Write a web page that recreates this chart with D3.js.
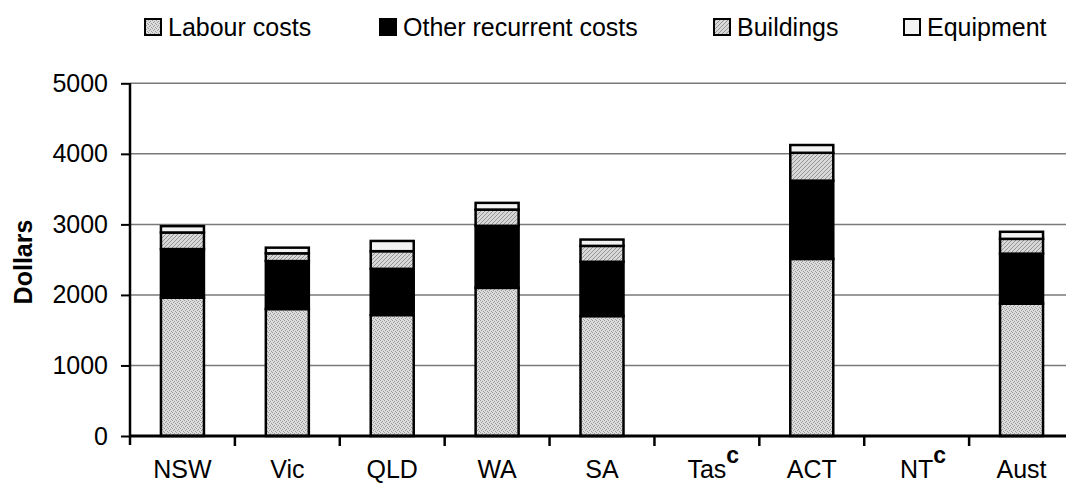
<!DOCTYPE html>
<html>
<head>
<meta charset="utf-8">
<script src="https://cdn.jsdelivr.net/npm/d3@7"></script>
<style>
  html, body { margin: 0; padding: 0; background: #fff; }
  svg { display: block; font-family: "Liberation Sans", Arial, sans-serif; }
</style>
</head>
<body>
<svg id="chart" width="1066" height="483"></svg>
<script>
// Recurrent and capital cost per unit, by jurisdiction (dollars)
const categories = ["NSW", "Vic", "QLD", "WA", "SA", "Tas", "ACT", "NT", "Aust"];
const footnotes = ["", "", "", "", "", "c", "", "c", ""];
const seriesNames = ["Labour costs", "Other recurrent costs", "Buildings", "Equipment"];
const labourCosts    = [1960, 1800, 1715, 2100, 1700, null, 2510, null, 1875];
const otherRecurrent = [ 690,  680,  655,  880,  770, null, 1110, null,  710];
const buildings      = [ 235,  110,  250,  230,  225, null,  395, null,  210];
const equipment      = [  90,   80,  145,   95,   90, null,  110, null,  100];
const yTicks = [0, 1000, 2000, 3000, 4000, 5000];

const svg = d3.select("#chart");
const plot = { left: 130, right: 1074, top: 83.3, bottom: 436 };

// fills: dithered greys for labour and buildings, near-white for equipment
const defs = svg.append("defs");
const dither = defs.append("pattern").attr("id", "patLabour")
  .attr("patternUnits", "userSpaceOnUse").attr("width", 4).attr("height", 4);
dither.append("rect").attr("width", 4).attr("height", 4).attr("fill", "#dcdcdc");
[[0,0],[2,1],[1,2],[3,3]].forEach(([px, py]) =>
  dither.append("rect").attr("x", px).attr("y", py).attr("width", 1).attr("height", 1).attr("fill", "#9a9a9a"));

const hatch = defs.append("pattern").attr("id", "patBuild")
  .attr("patternUnits", "userSpaceOnUse").attr("width", 4).attr("height", 4);
hatch.append("rect").attr("width", 4).attr("height", 4).attr("fill", "#d8d8d8");
[[0,3],[1,2],[2,1],[3,0]].forEach(([px, py]) =>
  hatch.append("rect").attr("x", px).attr("y", py).attr("width", 1).attr("height", 1).attr("fill", "#949494"));

const fills = ["url(#patLabour)", "#000000", "url(#patBuild)", "#f2f2f2"];

const x = d3.scaleBand().domain(categories).range([plot.left, plot.right]).paddingInner(0).paddingOuter(0);
const y = d3.scaleLinear().domain([0, 5000]).range([plot.bottom, plot.top]);
const barW = x.bandwidth() * 0.41;

// horizontal gridlines
svg.append("g").selectAll("line").data(yTicks.filter(d => d > 0)).join("line")
  .attr("x1", plot.left).attr("x2", plot.right)
  .attr("y1", d => y(d)).attr("y2", d => y(d))
  .attr("stroke", "#7a7a7a").attr("stroke-width", 1.5);

// stacked bars
const rows = categories.map((c, i) => ({
  cat: c,
  "Labour costs": labourCosts[i],
  "Other recurrent costs": otherRecurrent[i],
  "Buildings": buildings[i],
  "Equipment": equipment[i]
})).filter(r => r["Labour costs"] != null);

const stacked = d3.stack().keys(seriesNames)(rows);
svg.append("g").selectAll("g").data(stacked).join("g")
  .attr("fill", (d, i) => fills[i])
  .selectAll("rect").data(d => d).join("rect")
  .attr("x", d => x(d.data.cat) + (x.bandwidth() - barW) / 2)
  .attr("width", barW)
  .attr("y", d => y(d[1]))
  .attr("height", d => y(d[0]) - y(d[1]))
  .attr("stroke", "#000").attr("stroke-width", 2.5);

// y axis
const yAxis = svg.append("g").attr("transform", `translate(${plot.left},0)`)
  .call(d3.axisLeft(y).tickValues(yTicks).tickSize(9).tickPadding(13).tickFormat(d3.format("d")));
yAxis.select(".domain").remove();
yAxis.selectAll(".tick line").attr("stroke", "#000").attr("stroke-width", 2);
yAxis.selectAll("text").attr("font-size", 25).attr("fill", "#000").attr("font-family", "Liberation Sans, Arial, sans-serif");
svg.append("line").attr("x1", plot.left).attr("x2", plot.left)
  .attr("y1", plot.top).attr("y2", plot.bottom + 9)
  .attr("stroke", "#000").attr("stroke-width", 2.5);

// x axis: baseline, ticks between categories, labels centred on each band
svg.append("line").attr("x1", plot.left).attr("x2", plot.right)
  .attr("y1", plot.bottom).attr("y2", plot.bottom)
  .attr("stroke", "#000").attr("stroke-width", 3);
svg.append("g").selectAll("line").data(categories.slice(1)).join("line")
  .attr("x1", d => x(d)).attr("x2", d => x(d))
  .attr("y1", plot.bottom).attr("y2", plot.bottom + 10)
  .attr("stroke", "#000").attr("stroke-width", 2.5);

const xAxis = svg.append("g").attr("transform", `translate(0,${plot.bottom})`)
  .call(d3.axisBottom(x).tickSize(0).tickPadding(24));
xAxis.select(".domain").remove();
xAxis.selectAll("text").attr("font-size", 25).attr("fill", "#000").attr("font-family", "Liberation Sans, Arial, sans-serif");

// footnote markers placed just after the category label they annotate
xAxis.selectAll(".tick").each(function (c) {
  const i = categories.indexOf(c);
  if (!footnotes[i]) return;
  const w = this.querySelector("text").getComputedTextLength();
  svg.append("text")
    .attr("x", x(c) + x.bandwidth() / 2 + w / 2)
    .attr("y", 463)
    .attr("font-size", 23).attr("font-weight", "bold")
    .text(footnotes[i]);
});

// y axis title
svg.append("text")
  .attr("transform", `translate(32,262) rotate(-90)`)
  .attr("text-anchor", "middle")
  .attr("font-size", 25).attr("font-weight", "bold")
  .text("Dollars");

// legend
const legendX = [144, 379, 713, 903];
const legend = svg.append("g");
seriesNames.forEach((name, i) => {
  legend.append("rect")
    .attr("x", legendX[i] + 1).attr("y", 19).attr("width", 16).attr("height", 16)
    .attr("fill", fills[i]).attr("stroke", "#000").attr("stroke-width", 2);
  legend.append("text")
    .attr("x", legendX[i] + 24).attr("y", 36)
    .attr("font-size", 25).text(name);
});
</script>
</body>
</html>
